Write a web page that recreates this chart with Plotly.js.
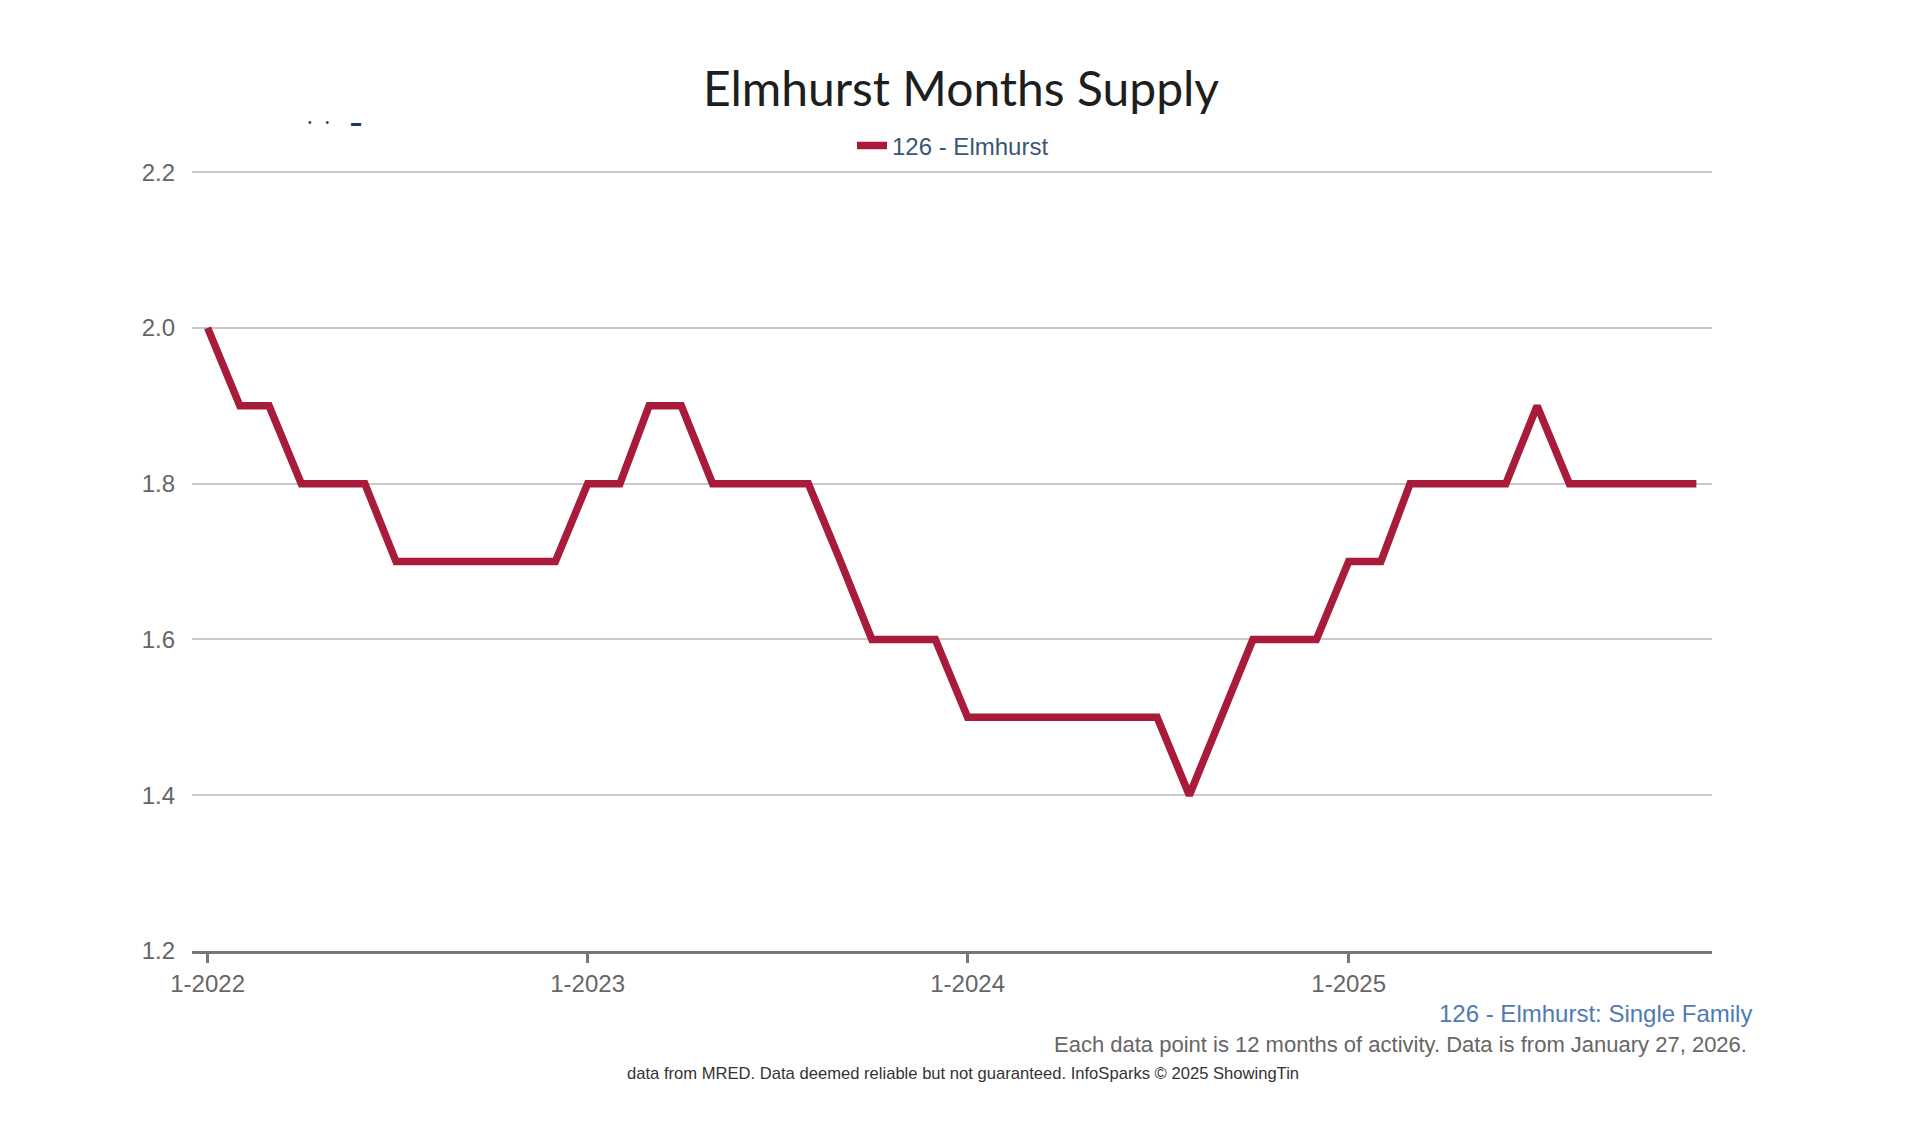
<!DOCTYPE html>
<html>
<head>
<meta charset="utf-8">
<script src="https://cdn.plot.ly/plotly-3.0.1.min.js"></script>
<style>html,body{margin:0;padding:0;background:#fff}#chart{width:1920px;height:1123px}</style>
</head>
<body>
<div id="chart"></div>
<script>
const months = [
  "2022-01-01","2022-02-01","2022-03-01","2022-04-01","2022-05-01","2022-06-01",
  "2022-07-01","2022-08-01","2022-09-01","2022-10-01","2022-11-01","2022-12-01",
  "2023-01-01","2023-02-01","2023-03-01","2023-04-01","2023-05-01","2023-06-01",
  "2023-07-01","2023-08-01","2023-09-01","2023-10-01","2023-11-01","2023-12-01",
  "2024-01-01","2024-02-01","2024-03-01","2024-04-01","2024-05-01","2024-06-01",
  "2024-07-01","2024-08-01","2024-09-01","2024-10-01","2024-11-01","2024-12-01",
  "2025-01-01","2025-02-01","2025-03-01","2025-04-01","2025-05-01","2025-06-01",
  "2025-07-01","2025-08-01","2025-09-01","2025-10-01","2025-11-01","2025-12-01"
];
const monthsSupply = [
  2.0,1.9,1.9,1.8,1.8,1.8,1.7,1.7,1.7,1.7,1.7,1.7,
  1.8,1.8,1.9,1.9,1.8,1.8,1.8,1.8,1.7,1.6,1.6,1.6,
  1.5,1.5,1.5,1.5,1.5,1.5,1.5,1.4,1.5,1.6,1.6,1.6,
  1.7,1.7,1.8,1.8,1.8,1.8,1.9,1.8,1.8,1.8,1.8,1.8
];
const xTickVals = ["2022-01-01","2023-01-01","2024-01-01","2025-01-01"];
const xTickText = ["1-2022","1-2023","1-2024","1-2025"];
const yTickVals = [1.2,1.4,1.6,1.8,2.0,2.2];
const yTickText = ["1.2","1.4","1.6","1.8","2.0","2.2"];
const seriesName = "126 - Elmhurst";
const chartTitle = "Elmhurst Months Supply";
const subtitle = "126 - Elmhurst: Single Family";
const note = "Each data point is 12 months of activity. Data is from January 27, 2026.";
const credit = "data from MRED. Data deemed reliable but not guaranteed. InfoSparks \u00a9 2025 ShowingTin";

const L = 192, R = 1712, T = 171, B = 951;
const PW = R - L, PH = B - T;
const px = v => (v - L) / PW;
const py = v => (B - v) / PH;

const trace = {
  x: months, y: monthsSupply, name: seriesName, type: "scatter", mode: "lines",
  line: {color: "#a81b3b", width: 7.5, shape: "linear"},
  hoverinfo: "x+y"
};

const layout = {
  width: 1920, height: 1123,
  paper_bgcolor: "#ffffff", plot_bgcolor: "#ffffff",
  margin: {l: L, r: 1920 - R, t: T, b: 1123 - B, pad: 0},
  title: {text: chartTitle, x: 961 / 1920, xanchor: "center", y: 1 - 89 / 1123, yanchor: "middle",
          font: {family: "Lato, sans-serif", size: 48, color: "#1e1e1e"}},
  showlegend: true,
  legend: {orientation: "h", x: px(953), xanchor: "center", y: py(146), yanchor: "middle",
           font: {family: "Liberation Sans, Arial, sans-serif", size: 24, color: "#3b557a"},
           itemwidth: 30, bgcolor: "rgba(0,0,0,0)"},
  xaxis: {
    type: "date", range: ["2021-12-17", "2025-12-16"],
    tickvals: xTickVals, ticktext: xTickText,
    showgrid: false, zeroline: false,
    showline: true, linecolor: "#777777", linewidth: 3,
    ticks: "outside", ticklen: 9, tickwidth: 3, tickcolor: "#777777",
    tickfont: {family: "Liberation Sans, Arial, sans-serif", size: 24, color: "#666666"},
    fixedrange: true
  },
  yaxis: {
    range: [1.2, 2.2015], tickvals: yTickVals, ticktext: yTickText,
    showgrid: true, gridcolor: "#c9c9c9", gridwidth: 2,
    zeroline: false, showline: false, ticks: "", ticklabelstandoff: 16,
    tickfont: {family: "Liberation Sans, Arial, sans-serif", size: 24, color: "#666666"},
    fixedrange: true
  },
  annotations: [
    {text: subtitle, xref: "paper", yref: "paper", x: px(1754), y: py(1013),
     xanchor: "right", yanchor: "middle", showarrow: false,
     font: {family: "Liberation Sans, Arial, sans-serif", size: 24, color: "#4f7bb3"}},
    {text: note, xref: "paper", yref: "paper", x: px(1749), y: py(1044),
     xanchor: "right", yanchor: "middle", showarrow: false,
     font: {family: "Liberation Sans, Arial, sans-serif", size: 22, color: "#666666"}},
    {text: credit, xref: "paper", yref: "paper", x: px(963), y: py(1073),
     xanchor: "center", yanchor: "middle", showarrow: false,
     font: {family: "Liberation Sans, Arial, sans-serif", size: 16.6, color: "#333333"}},
    {text: "\u2022&nbsp;&nbsp;&nbsp;&nbsp;&nbsp;\u2022&nbsp;&nbsp;&nbsp;&nbsp;&nbsp;&nbsp;&nbsp;&nbsp;\u25AC", xref: "paper", yref: "paper", x: px(334), y: py(122),
     xanchor: "center", yanchor: "middle", showarrow: false,
     font: {family: "Liberation Sans, Arial, sans-serif", size: 10, color: "#1d3561"}}
  ]
};

Plotly.newPlot("chart", [trace], layout, {displayModeBar: false, responsive: false});
</script>
</body>
</html>
